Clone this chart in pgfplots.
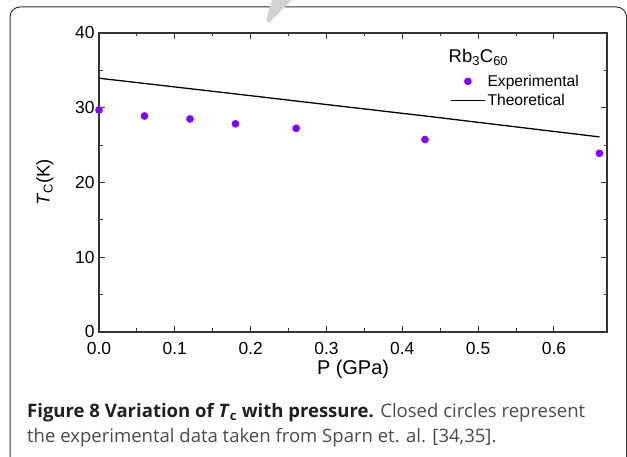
\documentclass[border=0pt]{standalone}
\usepackage{fontspec}
\setmainfont{Liberation Sans}
\newfontfamily\capfont{Open Sans}
\usepackage{pgfplots}
\pgfplotsset{compat=1.18}
\definecolor{expcol}{HTML}{8000FF}
\definecolor{axcol}{HTML}{333333}
\definecolor{captxt}{HTML}{4A4A4A}
\begin{document}
\begin{tikzpicture}[x=1bp,y=1bp]
\useasboundingbox (0,0) rectangle (627,457);
% frame
\draw[axcol, line width=1bp, rounded corners=10bp] (10,450) -- (626.5,450) -- (626.5,-20) -- (10,-20) -- cycle;
% watermark fragment
\fill[gray!35] (272,457) -- (292,457) -- (269,434) -- (266,437) -- cycle;
\begin{axis}[
  at={(99bp,125bp)}, anchor=south west,
  scale only axis, width=508bp, height=299bp,
  xmin=0, xmax=0.67, ymin=0, ymax=40,
  xtick={0,0.1,0.2,0.3,0.4,0.5,0.6},
  xticklabels={0.0,0.1,0.2,0.3,0.4,0.5,0.6},
  ytick={0,10,20,30,40},
  minor x tick num=1, minor y tick num=1,
  tick align=inside,
  major tick length=6bp, minor tick length=3.5bp,
  axis line style={axcol, line width=1.1bp},
  every tick/.style={axcol, line width=1bp},
  tick label style={font=\fontsize{17.5}{20}\selectfont, text=black},
  xticklabel style={yshift=-7bp},
  yticklabel style={xshift=-1bp},
  /pgf/number format/assume math mode=true,
  xlabel={P (GPa)},
  ylabel={\textit{T}\textsubscript{C}(K)},
  xlabel style={font=\fontsize{20}{23}\selectfont, at={(axis description cs:0.5,0)}, anchor=north, yshift=-25bp},
  ylabel style={font=\fontsize{18.5}{21}\selectfont, at={(axis description cs:0,0.5)}, anchor=south, yshift=42bp},
  legend style={draw=none, fill=none, at={(rel axis cs:0.691,0.867)}, anchor=north west,
    font=\fontsize{15.7}{18}\selectfont, legend cell align=left,
    row sep=2.5bp, inner sep=0bp,
    /tikz/every even column/.append style={column sep=5bp}},
  legend image code/.code={\draw[mark repeat=2,mark phase=2,#1] plot coordinates {(0bp,0bp) (17bp,0bp) (34bp,0bp)};},
]
\addplot[only marks, mark=*, mark size=3.6bp, mark options={draw=expcol, fill=expcol}] coordinates {
  (0.0,29.7) (0.06,28.9) (0.12,28.5) (0.18,27.85) (0.26,27.25) (0.43,25.75) (0.66,23.9)
};
\addlegendentry{Experimental}
\addplot[black, line width=1.3bp] coordinates {
  (0.0,33.95) (0.06,33.25) (0.12,32.55) (0.18,31.85) (0.26,30.9) (0.43,28.9) (0.66,26.1)
};
\addlegendentry{Theoretical}
\node[anchor=base west, inner sep=0pt, font=\fontsize{18.5}{21}\selectfont] at (rel axis cs:0.688,0.9) {Rb\textsubscript{3}C\textsubscript{60}};
\end{axis}
% caption
\node[anchor=base west, inner sep=0pt, font=\capfont\fontsize{18.6}{22}\selectfont] at (27,39) {\textcolor{black!88}{\textbf{Figure 8 Variation of \textit{T}\textsubscript{c} with pressure.}} \textcolor{captxt}{Closed circles represent}};
\node[anchor=base west, inner sep=0pt, font=\capfont\fontsize{18.6}{22}\selectfont, text=captxt] at (27,14) {the experimental data taken from Sparn et. al. [34,35].};
\end{tikzpicture}
\end{document}
